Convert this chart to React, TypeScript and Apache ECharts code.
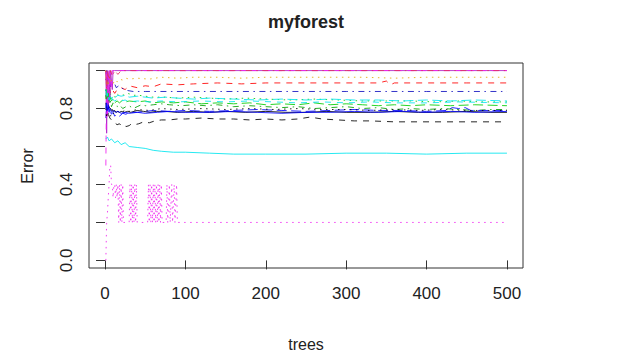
import React, { useEffect, useRef } from "react";
import * as echarts from "echarts";

const titleText = "myforest";
const xName = "trees";
const yName = "Error";
const xTicks = [0, 100, 200, 300, 400, 500];
const yTicks = [0, 0.2, 0.4, 0.6, 0.8, 1.0];
const yLabels = [0, 0.4, 0.8];

// error rates per number of trees: [tree, error]
const oob = [[1,0.87],[2,0.85],[3,0.84],[4,0.82],[5,0.81],[6,0.8],[7,0.8],[8,0.79],[9,0.795],[10,0.785],[12,0.79],[14,0.78],[16,0.785],[18,0.78],[20,0.785],[24,0.78],[28,0.785],[32,0.78],[40,0.79],[48,0.785],[56,0.78],[64,0.785],[75,0.785],[90,0.78],[110,0.785],[130,0.78],[150,0.785],[175,0.78],[200,0.785],[225,0.78],[250,0.78],[275,0.785],[300,0.78],[330,0.78],[360,0.785],[390,0.78],[420,0.78],[450,0.785],[480,0.78],[500,0.78]];
const c2 = [[1,1],[2,0.9],[3,0.95],[5,0.92],[7,0.88],[9,0.9],[12,0.88],[15,0.9],[20,0.91],[25,0.9],[30,0.92],[40,0.91],[50,0.92],[60,0.915],[70,0.93],[90,0.925],[110,0.93],[140,0.935],[170,0.93],[200,0.935],[250,0.935],[300,0.935],[340,0.935],[350,0.945],[355,0.925],[360,0.935],[400,0.935],[450,0.935],[500,0.935]];
const c3 = [[1,0.9],[2,0.86],[3,0.92],[4,0.88],[5,0.86],[6,0.9],[7,0.87],[8,0.85],[10,0.87],[12,0.86],[14,0.88],[17,0.87],[20,0.875],[24,0.87],[28,0.88],[32,0.875],[36,0.87],[42,0.87],[50,0.865],[60,0.86],[75,0.86],[90,0.855],[110,0.86],[130,0.855],[150,0.85],[175,0.855],[200,0.85],[230,0.845],[260,0.85],[290,0.845],[320,0.84],[350,0.84],[380,0.84],[410,0.835],[440,0.84],[470,0.835],[500,0.835]];
const c4 = [[1,0.95],[2,1],[3,0.93],[4,0.96],[5,0.92],[6,0.94],[7,0.91],[8,0.93],[10,0.92],[12,0.93],[14,0.91],[17,0.92],[20,0.91],[24,0.9],[28,0.895],[35,0.89],[50,0.89],[80,0.89],[120,0.89],[200,0.89],[300,0.89],[400,0.89],[500,0.89]];
const c5 = [[1,0.8],[2,0.85],[3,0.82],[4,0.86],[5,0.84],[6,0.87],[8,0.85],[10,0.87],[13,0.86],[16,0.87],[20,0.865],[25,0.87],[30,0.86],[40,0.865],[50,0.86],[60,0.855],[75,0.86],[90,0.855],[110,0.85],[130,0.855],[160,0.85],[190,0.845],[220,0.85],[250,0.845],[280,0.85],[310,0.845],[340,0.845],[370,0.84],[400,0.845],[430,0.84],[460,0.845],[500,0.84]];
const c6 = [[1,1],[2,0.67],[3,1],[4,0.8],[5,1],[6,0.86],[7,1],[9,0.9],[10,1],[12,1],[100,1],[300,1],[500,1]];
const c7 = [[1,0.83],[2,0.8],[3,0.78],[4,0.77],[6,0.75],[8,0.74],[10,0.73],[12,0.725],[15,0.715],[18,0.72],[20,0.71],[23,0.715],[26,0.705],[30,0.71],[33,0.72],[37,0.715],[42,0.72],[48,0.73],[55,0.725],[62,0.735],[70,0.74],[80,0.74],[90,0.745],[100,0.745],[120,0.75],[140,0.745],[160,0.745],[180,0.74],[200,0.745],[220,0.74],[240,0.745],[255,0.755],[270,0.745],[290,0.74],[310,0.735],[330,0.735],[360,0.73],[390,0.73],[420,0.73],[450,0.73],[480,0.73],[500,0.73]];
const c8 = [[1,1],[2,0.9],[3,0.95],[4,0.92],[5,0.94],[6,0.97],[7,0.93],[8,0.95],[10,0.93],[12,0.95],[15,0.94],[18,0.955],[22,0.95],[26,0.96],[30,0.955],[40,0.96],[55,0.955],[70,0.965],[90,0.96],[110,0.965],[140,0.965],[170,0.96],[200,0.965],[240,0.965],[280,0.965],[320,0.965],[360,0.96],[400,0.965],[450,0.965],[500,0.965]];
const c9 = [[1,0.9],[2,0.85],[3,0.87],[4,0.83],[5,0.85],[6,0.82],[7,0.84],[8,0.81],[10,0.83],[12,0.82],[15,0.81],[18,0.82],[22,0.8],[26,0.81],[30,0.815],[35,0.8],[40,0.81],[45,0.82],[50,0.815],[60,0.82],[70,0.825],[80,0.82],[95,0.815],[110,0.82],[125,0.815],[140,0.82],[160,0.81],[180,0.815],[200,0.81],[220,0.805],[240,0.81],[260,0.8],[280,0.805],[300,0.81],[320,0.8],[340,0.805],[360,0.795],[380,0.8],[400,0.795],[420,0.8],[440,0.795],[460,0.79],[480,0.795],[500,0.795]];
const c10 = [[1,0.75],[2,0.8],[3,0.78],[4,0.82],[5,0.8],[6,0.79],[8,0.77],[10,0.78],[12,0.76],[15,0.77],[18,0.76],[22,0.775],[26,0.77],[30,0.78],[40,0.78],[50,0.785],[60,0.79],[80,0.785],[100,0.79],[130,0.785],[160,0.79],[190,0.795],[220,0.79],[250,0.785],[280,0.79],[310,0.795],[340,0.79],[370,0.79],[400,0.785],[425,0.79],[432,0.805],[440,0.8],[448,0.805],[455,0.79],[480,0.79],[500,0.79]];
const c11 = [[1,0.64],[3,0.65],[5,0.63],[8,0.64],[12,0.62],[16,0.63],[20,0.61],[25,0.62],[30,0.6],[40,0.595],[50,0.59],[60,0.58],[70,0.575],[85,0.57],[100,0.57],[130,0.565],[160,0.56],[200,0.56],[250,0.56],[300,0.565],[350,0.565],[400,0.56],[450,0.565],[500,0.565]];
const c12 = [[1,0.5],[2,1],[3,0.75],[4,1],[5,0.83],[6,1],[8,0.9],[9,1],[100,1],[300,1],[500,1]];
const c13 = [[1,0.8],[2,0.75],[3,0.8],[4,0.77],[5,0.78],[7,0.76],[9,0.78],[12,0.77],[15,0.785],[20,0.78],[25,0.79],[30,0.785],[40,0.795],[55,0.79],[70,0.8],[90,0.795],[120,0.8],[150,0.795],[180,0.8],[210,0.795],[240,0.8],[270,0.795],[300,0.795],[330,0.79],[360,0.795],[390,0.79],[420,0.795],[450,0.79],[500,0.79]];
const c14 = [[1,1],[2,0.9],[3,1],[5,0.95],[7,1],[9,0.97],[12,1],[16,0.98],[20,1],[100,1],[300,1],[500,1]];
const c15 = [[1,0.85],[2,0.9],[3,0.86],[4,0.88],[5,0.84],[6,0.86],[8,0.84],[10,0.85],[12,0.83],[15,0.84],[18,0.83],[22,0.845],[26,0.835],[30,0.84],[40,0.835],[50,0.84],[60,0.83],[70,0.835],[85,0.83],[100,0.835],[120,0.825],[140,0.83],[160,0.825],[180,0.83],[200,0.82],[220,0.825],[240,0.82],[260,0.83],[280,0.82],[300,0.825],[320,0.82],[340,0.815],[360,0.82],[380,0.815],[400,0.82],[430,0.815],[460,0.82],[500,0.815]];
const c16 = [[1,0.8],[2,0.83],[3,0.79],[4,0.81],[5,0.78],[6,0.8],[8,0.78],[10,0.79],[13,0.78],[16,0.785],[20,0.775],[25,0.78],[30,0.775],[40,0.78],[50,0.775],[65,0.78],[80,0.785],[100,0.78],[130,0.78],[160,0.785],[190,0.78],[220,0.775],[250,0.78],[280,0.78],[310,0.785],[340,0.78],[370,0.785],[400,0.78],[430,0.785],[460,0.78],[500,0.785]];
const c17 = [[1,0.9],[2,0.85],[3,0.88],[4,0.84],[5,0.86],[7,0.83],[9,0.85],[12,0.84],[16,0.85],[20,0.84],[25,0.845],[30,0.835],[40,0.84],[55,0.835],[70,0.84],[90,0.835],[120,0.84],[150,0.835],[180,0.84],[210,0.835],[240,0.83],[270,0.835],[300,0.83],[330,0.835],[360,0.83],[400,0.83],[440,0.835],[500,0.83]];
const c18 = [[1,0],[2,0.2],[3,0.25],[4,0.33],[5,0.4],[6,0.5],[7,0.5],[8,0.4],[9,0.4],[10,0.33],[11,0.4],[12,0.4],[13,0.33],[14,0.4],[15,0.33],[16,0.4],[17,0.2],[18,0.4],[19,0.2],[20,0.4],[21,0.2],[22,0.4],[23,0.2],[30,0.2],[31,0.4],[32,0.2],[33,0.4],[34,0.2],[35,0.4],[36,0.2],[37,0.4],[38,0.2],[39,0.4],[40,0.2],[53,0.2],[54,0.4],[55,0.2],[56,0.4],[57,0.2],[58,0.4],[59,0.2],[60,0.4],[61,0.2],[62,0.4],[63,0.2],[64,0.4],[65,0.2],[66,0.4],[67,0.2],[68,0.4],[69,0.2],[70,0.4],[71,0.2],[76,0.2],[77,0.4],[78,0.2],[80,0.4],[81,0.2],[83,0.4],[84,0.2],[86,0.4],[87,0.2],[89,0.4],[90,0.2],[100,0.2],[200,0.2],[300,0.2],[400,0.2],[500,0.2]];

const seriesNames = ["OOB","c2","c3","c4","c5","c6","c7","c8","c9","c10","c11","c12","c13","c14","c15","c16","c17","c18"];
const seriesData = [oob,c2,c3,c4,c5,c6,c7,c8,c9,c10,c11,c12,c13,c14,c15,c16,c17,c18];

// line colours as seen in the picture (R matplot-style colour/lty recycling)
const colors = ["#000000", "#FF0000", "#00CD00", "#1010C0", "#00E5EE", "#B020C8", "#000000", "#E8A800", "#00A000", "#0000FF", "#00E5EE", "#F020F0", "#000000", "#E03060", "#00CD00", "#0000FF", "#00E5EE", "#F020F0"];
const dashes: any[] = ["solid", [6, 6], [1.5, 4.5], [1.5, 4.5, 6, 4.5], [10, 4.5]];

export default function App() {
  const ref = useRef<HTMLDivElement>(null);
  useEffect(() => {
    const chart = echarts.init(ref.current!, null, { renderer: "svg" });
    const font = "Liberation Sans";
    const txt = "#222222";
    const left = 89, right = 97;
    const cx = left + (620 - left - right) / 2;
    chart.setOption({
      animation: false,
      backgroundColor: "#ffffff",
      grid: { left, right, top: 63, bottom: 88, show: true, borderColor: "#333", borderWidth: 1, backgroundColor: "transparent" },
      xAxis: {
        type: "value", min: -19.96, max: 519.96,
        axisLine: { show: false }, splitLine: { show: false },
        axisTick: { show: true, customValues: xTicks, length: 9, lineStyle: { color: "#333" } },
        axisLabel: { customValues: xTicks, fontSize: 17, fontFamily: font, color: txt, margin: 17 },
      },
      yAxis: {
        type: "value", min: -0.04, max: 1.04,
        axisLine: { show: false }, splitLine: { show: false },
        axisTick: { show: true, customValues: yTicks, length: 9, lineStyle: { color: "#333" } },
        axisLabel: { customValues: yLabels, rotate: 90, fontSize: 17, fontFamily: font, color: txt, margin: 14, formatter: (v: number) => v.toFixed(1) },
      },
      graphic: [
        { type: "text", x: cx, y: 22, style: { text: titleText, font: `bold 18px "${font}"`, textAlign: "center", textVerticalAlign: "middle", align: "center", verticalAlign: "middle", fill: txt } },
        { type: "text", x: cx, y: 344, style: { text: xName, font: `16px "${font}"`, textAlign: "center", textVerticalAlign: "middle", align: "center", verticalAlign: "middle", fill: txt } },
        { type: "text", x: 27, y: 166, rotation: Math.PI / 2, style: { text: yName, font: `16px "${font}"`, textAlign: "center", textVerticalAlign: "middle", align: "center", verticalAlign: "middle", fill: txt } },
      ],
      series: seriesData.map((d, i) => ({
        name: seriesNames[i],
        type: "line",
        data: d,
        symbol: "none",
        silent: true,
        lineStyle: { color: colors[i], width: 1, type: dashes[i % 5], opacity: 0.85 },
      })),
    });
    return () => chart.dispose();
  }, []);
  return <div ref={ref} style={{ position: "fixed", left: 0, top: 0, width: 620, height: 356, background: "#fff" }} />;
}
